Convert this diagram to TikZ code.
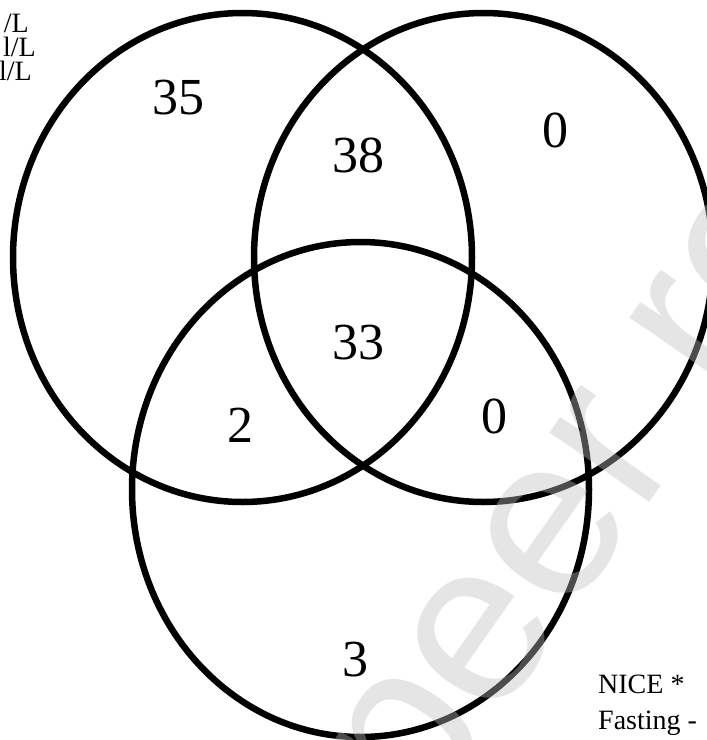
\documentclass[tikz,border=0pt]{standalone}
\usepackage{fontspec}
\setmainfont{Liberation Serif}
\newfontfamily\wmfont{Liberation Sans}
\tikzset{
  setline/.style={line width=6.5pt},
  count/.style={inner sep=0pt, font=\fontsize{52}{52}\selectfont},
  note/.style={inner sep=0pt, font=\fontsize{28}{28}\selectfont}
}
\begin{document}
\begin{tikzpicture}[x=1pt, y=-1pt]
\useasboundingbox (0,0) rectangle (707,740);
% the three sets
\draw[setline] (242.5,257.5) ellipse [x radius=229.5pt, y radius=244.5pt];
\draw[setline] (483.5,257.5) ellipse [x radius=229.5pt, y radius=244.5pt];
\draw[setline] (360.5,489.5) ellipse [x radius=228.5pt, y radius=247.5pt];
% counts
\node[count] (onlyA) at (178,98) {35};
\node[count] (ab) at (358,155) {38};
\node[count] (onlyB) at (555,130) {0};
\node[count] (abc) at (358,343) {33};
\node[count] (ac) at (240,425) {2};
\node[count] (bc) at (494,416) {0};
\node[count] (onlyC) at (355,660) {3};
% legends, cut by the page edge
\node[note, anchor=base east] (unitA) at (29,32) {/L};
\node[note, anchor=base east] (unitB) at (36,56) {l/L};
\node[note, anchor=base east] (unitC) at (32,80) {l/L};
\node[note, anchor=base west] (nice) at (598,693) {NICE *};
\node[note, anchor=base west] (fasting) at (598,729) {Fasting -};
% watermark
\node[text=black!25, opacity=0.4, inner sep=0pt, rotate=55, anchor=base west,
  font=\wmfont\fontsize{230}{230}\selectfont] (wmark) at (420,830) {peer review};
\end{tikzpicture}
\end{document}
